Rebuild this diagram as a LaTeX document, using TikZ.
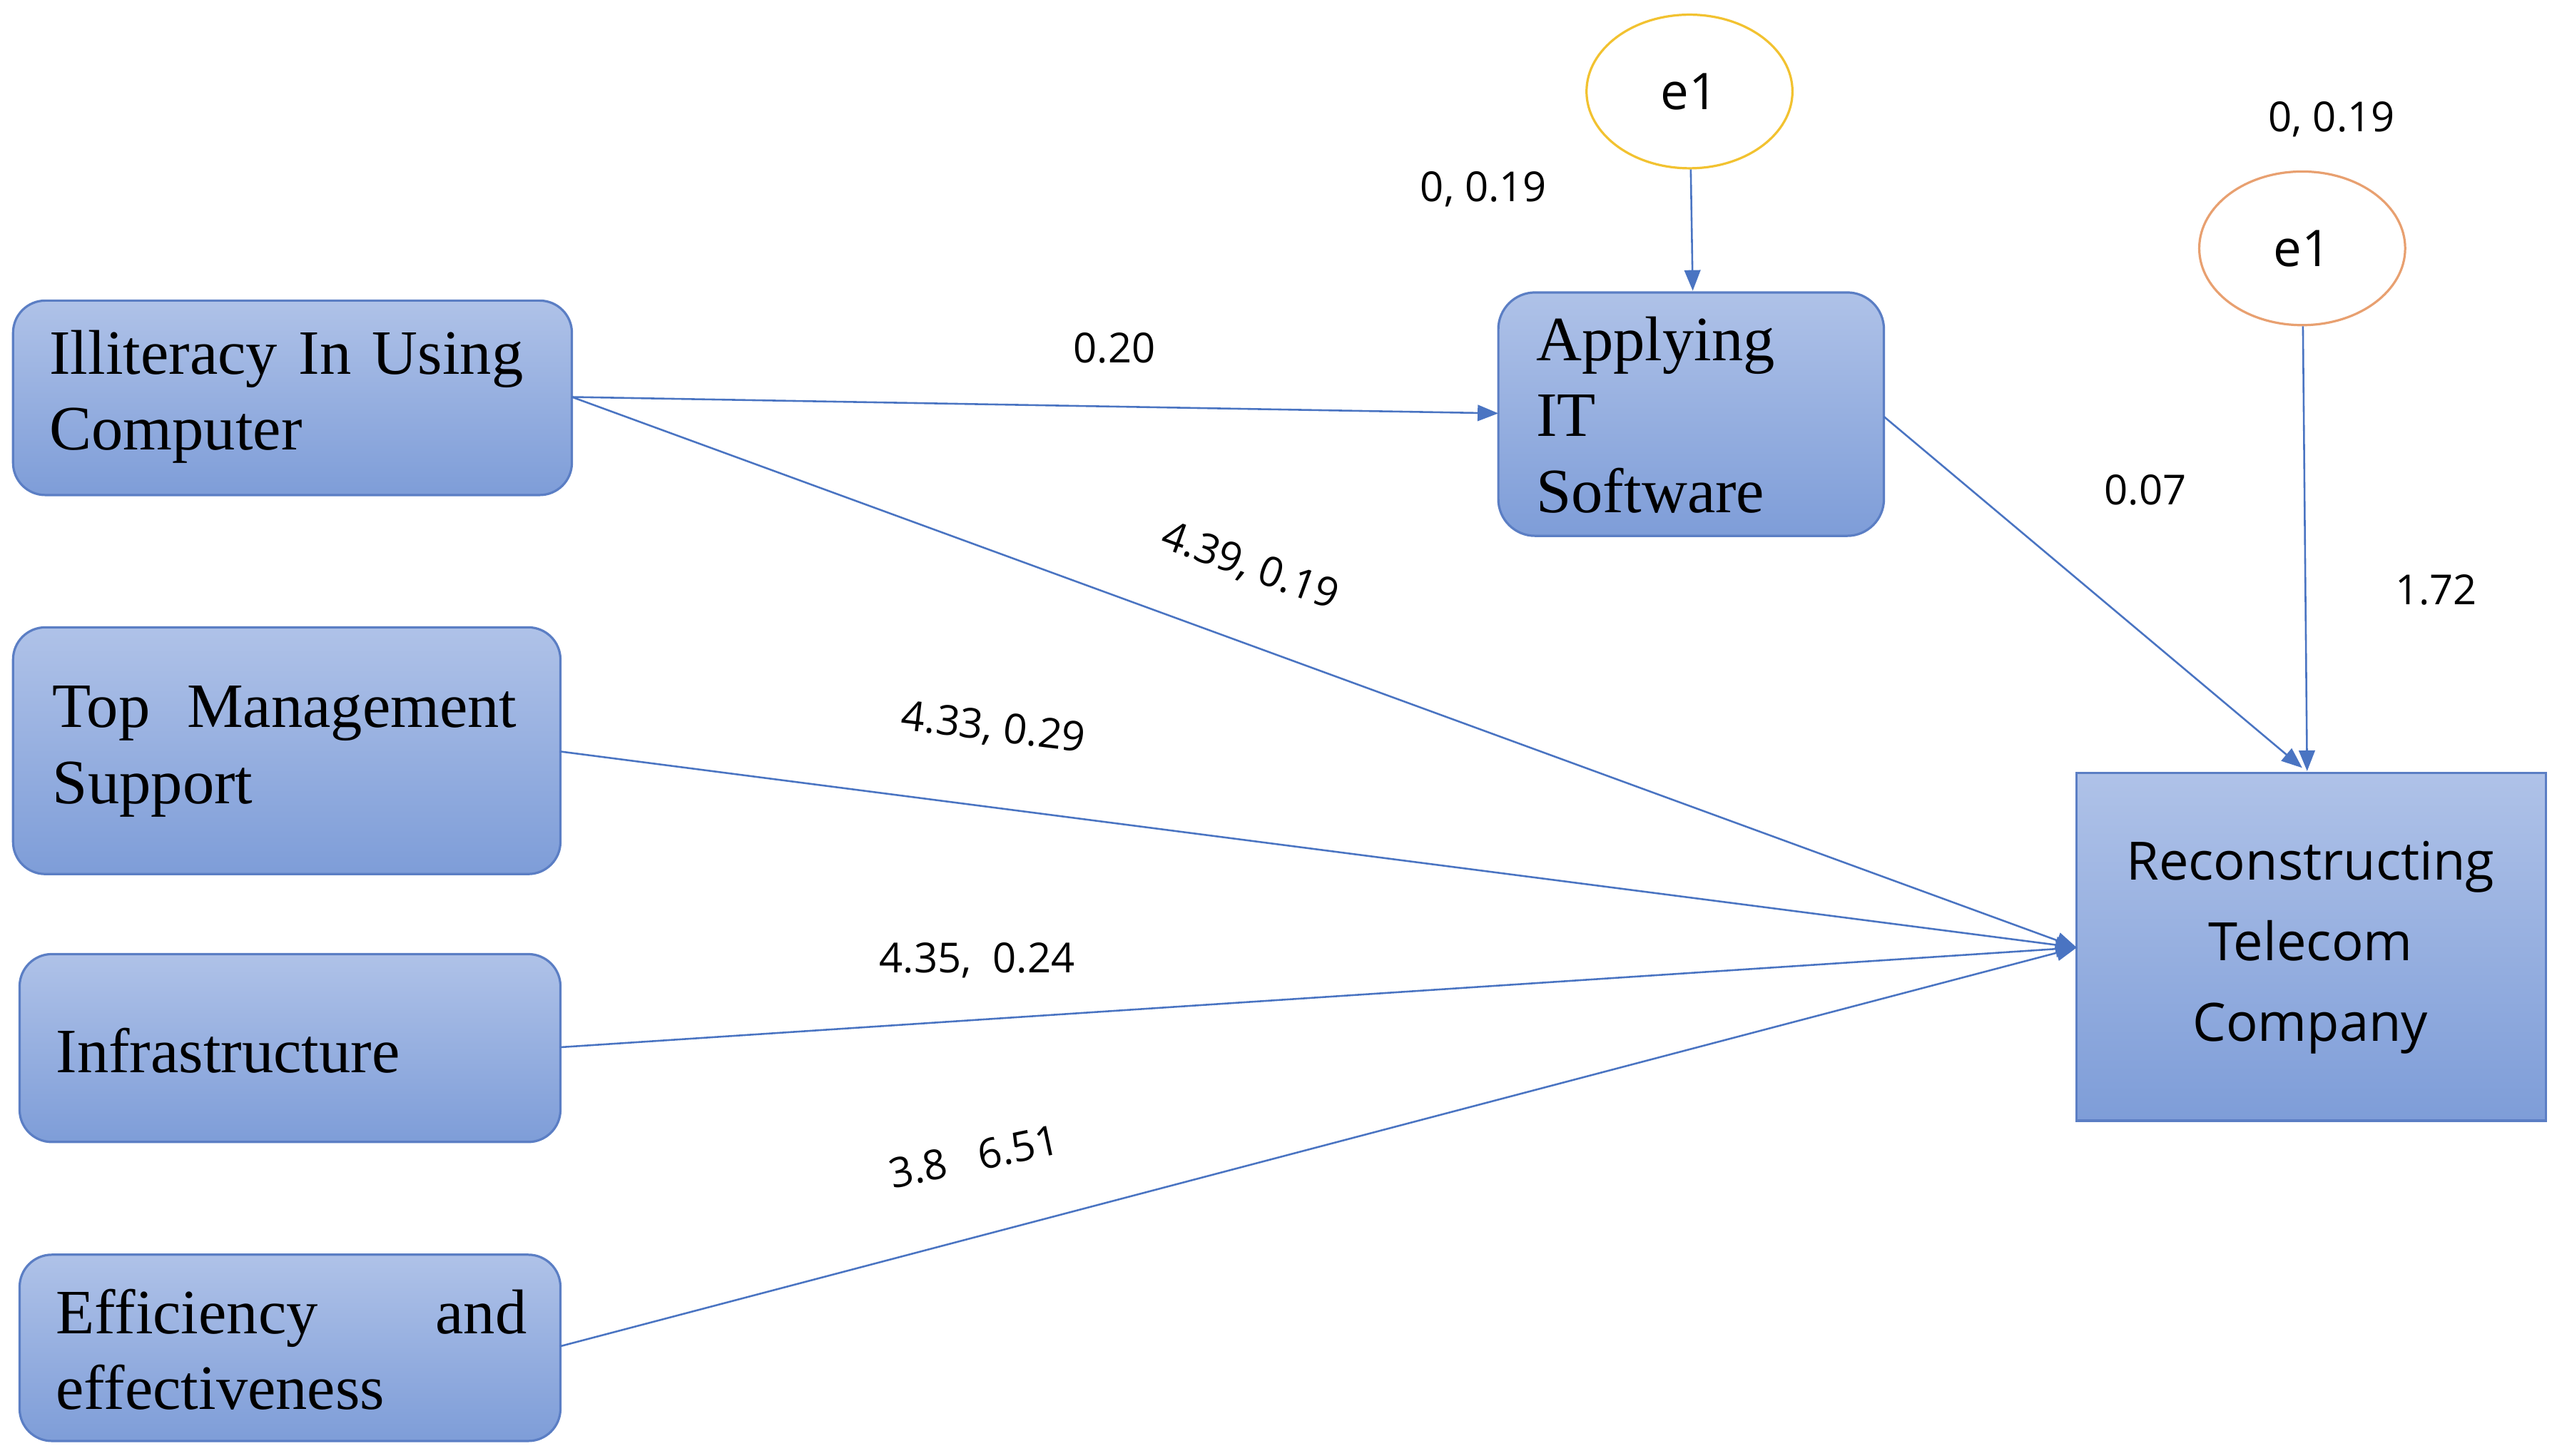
\documentclass[tikz,border=0pt]{standalone}
\usepackage{fontspec}
\setmainfont{Liberation Serif}
\newfontfamily\lab{Open Sans}
\usetikzlibrary{arrows.meta,shapes.geometric}
\definecolor{bord}{HTML}{5B7EC4}
\definecolor{topc}{HTML}{AFC2E8}
\definecolor{botc}{HTML}{7E9DD8}
\definecolor{ln}{HTML}{4A74C2}
\definecolor{yel}{HTML}{F2C230}
\definecolor{ora}{HTML}{E8A070}
\begin{document}
\begin{tikzpicture}[x=0.025cm,y=-0.025cm,
  box/.style={draw=bord,line width=1pt,rounded corners=14pt,top color=topc,bottom color=botc,inner sep=0pt},
  bt/.style={font=\fontsize{27.5}{33}\selectfont,align=left,text width=#1,inner sep=0pt},
  conn/.style={draw=ln,line width=0.8pt,-{Triangle[length=9pt,width=7pt]}},
  lb/.style={font=\lab\fontsize{18}{22}\selectfont,inner sep=1pt},
  el/.style={ellipse,draw=#1,line width=1pt,fill=white,minimum width=3.15cm,minimum height=2.35cm,font=\lab\fontsize{22}{26}\selectfont}]
\useasboundingbox (0,0) rectangle (1568,891);
\path[box] (8,184) rectangle (350,303);
\node[bt=8cm,anchor=west] (ill) at (30,243) {Illiteracy In Using\\Computer};
\coordinate (illR) at (350,243);
\path[box] (8,384) rectangle (343,535);
\node[bt=7.1cm,anchor=west] (top) at (32,460) {Top\hfill Management\\Support};
\coordinate (topR) at (343,460);
\path[box] (12,584) rectangle (343,699);
\node[bt=7cm,anchor=west] (inf) at (34,643) {Infrastructure};
\coordinate (infR) at (343,641);
\path[box] (12,768) rectangle (343,882);
\node[bt=7.2cm,anchor=west] (eff) at (34,826) {Efficiency\hfill and\\effectiveness};
\coordinate (effR) at (343,824);
\path[box,rounded corners=16pt] (917,179) rectangle (1153,328);
\node[bt=5.5cm,anchor=west] (app) at (940,254) {Applying\\IT\\Software};
\coordinate (appL) at (917,253);
\coordinate (appR) at (1153,255);
\path[draw=bord,line width=1pt,top color=topc,bottom color=botc] (1271,473) rectangle (1558,686);
\node[font=\lab\fontsize{23}{35}\selectfont,align=center] (rec) at (1414,580) {Reconstructing\\Telecom\\Company};
\coordinate (recL) at (1271,580);
\coordinate (recT) at (1412,472);
\coordinate (recT2) at (1409,470);
\coordinate (appT) at (1036,178);
\node[el=yel] (e1) at (1034,56) {e1};
\node[el=ora] (e2) at (1409,152) {e1};
\draw[conn] (illR) -- (appL);
\draw[conn] (illR) -- (recL);
\draw[conn] (topR) -- (recL);
\draw[conn] (infR) -- (recL);
\draw[conn] (effR) -- (recL);
\draw[conn] (appR) -- (recT2);
\draw[conn] (e1) -- (appT);
\draw[conn] (e2) -- (recT);
\node[lb] at (682,213) {0.20};
\node[lb,rotate=-20] at (765,347) {4.39, 0.19};
\node[lb,rotate=-7] at (608,446) {4.33, 0.29};
\node[lb] at (598,588) {4.35,\ \ 0.24};
\node[lb,rotate=12] at (596,708) {3.8\ \ \ 6.51};
\node[lb] at (908,116) {0, 0.19};
\node[lb] at (1427,73) {0, 0.19};
\node[lb] at (1313,300) {0.07};
\node[lb] at (1491,361) {1.72};
\end{tikzpicture}
\end{document}
